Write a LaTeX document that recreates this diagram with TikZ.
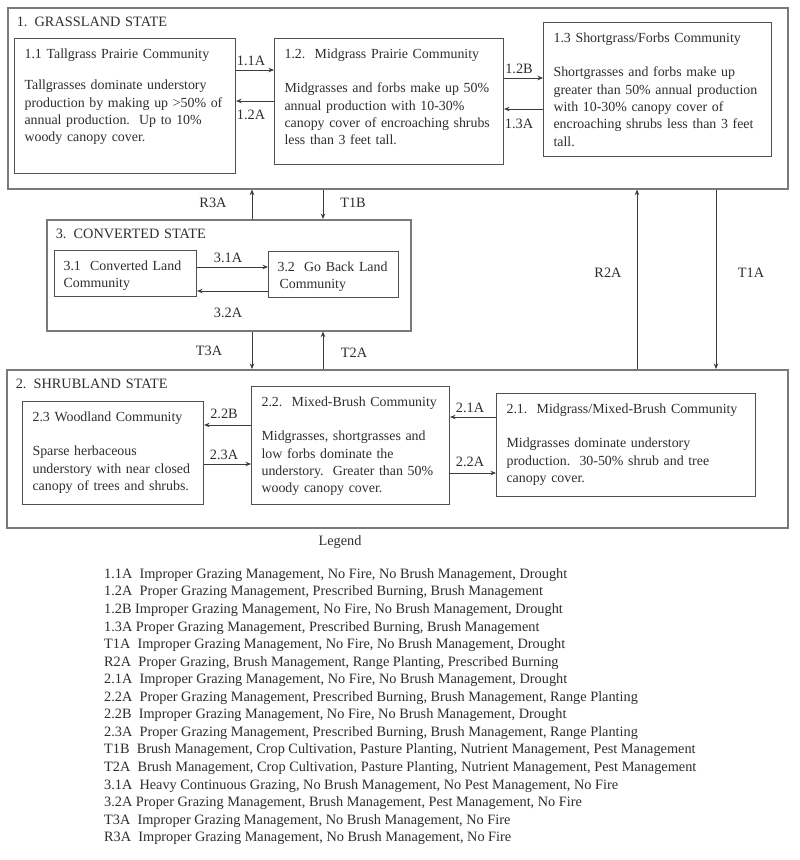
\documentclass[tikz,border=0pt]{standalone}
\usepackage{fontspec}
\setmainfont{Liberation Serif}
\usetikzlibrary{arrows.meta,positioning,calc}
\definecolor{boxgray}{HTML}{505050}
\definecolor{stategray}{HTML}{7A7A7A}
\definecolor{inkgray}{HTML}{2E2E2E}
\definecolor{arrowgray}{HTML}{3C3C3C}

\begin{document}
\begin{tikzpicture}[x=1pt,y=-1pt,
  font=\fontsize{14.3}{17.3}\selectfont,
  state/.style={draw=stategray,line width=1.6pt,anchor=north west,align=left,
                inner xsep=9pt,inner ysep=9pt,text height=10pt,text=inkgray},
  comm/.style={draw=boxgray,line width=1.1pt,anchor=north west,align=left,
               inner xsep=10pt,inner ysep=10pt,text height=10pt,text=inkgray,
               font=\fontsize{13.9}{17.3}\selectfont},
  trans/.style={inner sep=0pt,text=inkgray},
  arr/.style={draw=arrowgray,line width=0.8pt,-{Stealth[length=5.5pt,width=4.5pt]}},
  leg/.style={anchor=west,inner sep=0pt,text=inkgray}
]
\fill[white] (0,0) rectangle (800,860);

% ---- State boxes ----------------------------------------------
\node[state,text width=762pt,text depth=153pt] (grass) at (7,7)   {1. GRASSLAND STATE};
\node[state,text width=346pt,text depth=83pt]  (conv)  at (46,219) {3. CONVERTED STATE};
\node[state,text width=763pt,text depth=130pt] (shrub) at (6,369) {2. SHRUBLAND STATE};

% ---- Grassland communities ------------------------------------
\node[comm,text width=201pt,text depth=105pt] (c11) at (14,38)
  {\mbox{1.1 Tallgrass Prairie Community}\\[14pt]
   \mbox{Tallgrasses dominate understory}\\
   \mbox{production by making up >50\% of}\\
   \mbox{annual production.\ \ Up to 10\%}\\
   \mbox{woody canopy cover.}};
\node[comm,text width=209pt,text depth=96pt] (c12) at (274,38)
  {\mbox{1.2.\ \ Midgrass Prairie Community}\\[17pt]
   \mbox{Midgrasses and forbs make up 50\%}\\
   \mbox{annual production with 10-30\%}\\
   \mbox{canopy cover of encroaching shrubs}\\
   \mbox{less than 3 feet tall.}};
\node[comm,text width=208pt,text depth=104pt] (c13) at (543,22)
  {\mbox{1.3 Shortgrass/Forbs Community}\\[17pt]
   \mbox{Shortgrasses and forbs make up}\\
   \mbox{greater than 50\% annual production}\\
   \mbox{with 10-30\% canopy cover of}\\
   \mbox{encroaching shrubs less than 3 feet}\\
   \mbox{tall.}};

% ---- Converted communities ------------------------------------
\node[comm,inner xsep=9pt,text width=124pt,text depth=16pt] (c31) at (54,250)
  {\mbox{3.1\ \ Converted Land}\\ \mbox{Community}};
\node[comm,inner xsep=9pt,text width=112pt,text depth=16pt] (c32) at (268,251)
  {\mbox{3.2\ \ Go Back Land}\\ \mbox{\hspace{2pt}Community}};

% ---- Shrubland communities ------------------------------------
\node[comm,text width=161pt,text depth=73pt] (c23) at (22,401)
  {\mbox{2.3 Woodland Community}\\[17pt]
   \mbox{Sparse herbaceous}\\
   \mbox{understory with near closed}\\
   \mbox{canopy of trees and shrubs.}};
\node[comm,text width=178pt,text depth=88pt] (c22) at (251,386)
  {\mbox{2.2.\ \ Mixed-Brush Community}\\[17pt]
   \mbox{Midgrasses, shortgrasses and}\\
   \mbox{low forbs dominate the}\\
   \mbox{understory.\ \ Greater than 50\%}\\
   \mbox{woody canopy cover.}};
\node[comm,text width=239pt,text depth=73pt] (c21) at (496,393)
  {\mbox{2.1.\ \ Midgrass/Mixed-Brush Community}\\[17pt]
   \mbox{Midgrasses dominate understory}\\
   \mbox{production.\ \ 30-50\% shrub and tree}\\
   \mbox{canopy cover.}};

% ---- Pathways within states -----------------------------------
\draw[arr] (c11.east |- 0,70)  -- (c12.west |- 0,70);
\draw[arr] (c12.west |- 0,101) -- (c11.east |- 0,101);
\draw[arr] (c12.east |- 0,78)  -- (c13.west |- 0,78);
\draw[arr] (c13.west |- 0,109) -- (c12.east |- 0,109);
\draw[arr] (c31.east |- 0,267) -- (c32.west |- 0,267);
\draw[arr] (c32.west |- 0,291) -- (c31.east |- 0,291);
\draw[arr] (c22.west |- 0,425) -- (c23.east |- 0,425);
\draw[arr] (c23.east |- 0,464) -- (c22.west |- 0,464);
\draw[arr] (c21.west |- 0,417) -- (c22.east |- 0,417);
\draw[arr] (c22.east |- 0,473) -- (c21.west |- 0,473);

\node[trans] (l11A) at (251,61)  {1.1A};
\node[trans] (l12A) at (251,115) {1.2A};
\node[trans] (l12B) at (519,69)  {1.2B};
\node[trans] (l13A) at (519,124) {1.3A};
\node[trans] (l31A) at (228,258) {3.1A};
\node[trans] (l32A) at (228,313) {3.2A};
\node[trans] (l22B) at (224,414) {2.2B};
\node[trans] (l23A) at (224,455) {2.3A};
\node[trans] (l21A) at (470,408) {2.1A};
\node[trans] (l22A) at (470,462) {2.2A};

% ---- Transitions between states -------------------------------
\coordinate (colA) at (252,0);
\coordinate (colB) at (323,0);
\coordinate (colC) at (637,0);
\coordinate (colD) at (716,0);
\draw[arr] (conv.north -| colA)  -- (grass.south -| colA);
\draw[arr] (grass.south -| colB) -- (conv.north -| colB);
\draw[arr] (conv.south -| colA)  -- (shrub.north -| colA);
\draw[arr] (shrub.north -| colB) -- (conv.south -| colB);
\draw[arr] (shrub.north -| colC) -- (grass.south -| colC);
\draw[arr] (grass.south -| colD) -- (shrub.north -| colD);

\node[trans] (lR3A) at (213,203) {R3A};
\node[trans] (lT1B) at (353,203) {T1B};
\node[trans] (lT3A) at (209,351) {T3A};
\node[trans] (lT2A) at (354,353) {T2A};
\node[trans] (lR2A) at (608,273) {R2A};
\node[trans] (lT1A) at (751,273) {T1A};

% ---- Legend ---------------------------------------------------
\node[trans] (legend) at (340,542) {Legend};
\foreach \txt [count=\i from 0] in {
  {1.1A\ \ Improper Grazing Management, No Fire, No Brush Management, Drought},
  {1.2A\ \ Proper Grazing Management, Prescribed Burning, Brush Management},
  {1.2B Improper Grazing Management, No Fire, No Brush Management, Drought},
  {1.3A Proper Grazing Management, Prescribed Burning, Brush Management},
  {T1A\ \ Improper Grazing Management, No Fire, No Brush Management, Drought},
  {R2A\ \ Proper Grazing, Brush Management, Range Planting, Prescribed Burning},
  {2.1A\ \ Improper Grazing Management, No Fire, No Brush Management, Drought},
  {2.2A\ \ Proper Grazing Management, Prescribed Burning, Brush Management, Range Planting},
  {2.2B\ \ Improper Grazing Management, No Fire, No Brush Management, Drought},
  {2.3A\ \ Proper Grazing Management, Prescribed Burning, Brush Management, Range Planting},
  {T1B\ \ Brush Management, Crop Cultivation, Pasture Planting, Nutrient Management, Pest Management},
  {T2A\ \ Brush Management, Crop Cultivation, Pasture Planting, Nutrient Management, Pest Management},
  {3.1A\ \ Heavy Continuous Grazing, No Brush Management, No Pest Management, No Fire},
  {3.2A Proper Grazing Management, Brush Management, Pest Management, No Fire},
  {T3A\ \ Improper Grazing Management, No Brush Management, No Fire},
  {R3A\ \ Improper Grazing Management, No Brush Management, No Fire}}
  \node[leg] (leg\i) at (104,{575+17.55*\i}) {\txt};

\end{tikzpicture}
\end{document}
